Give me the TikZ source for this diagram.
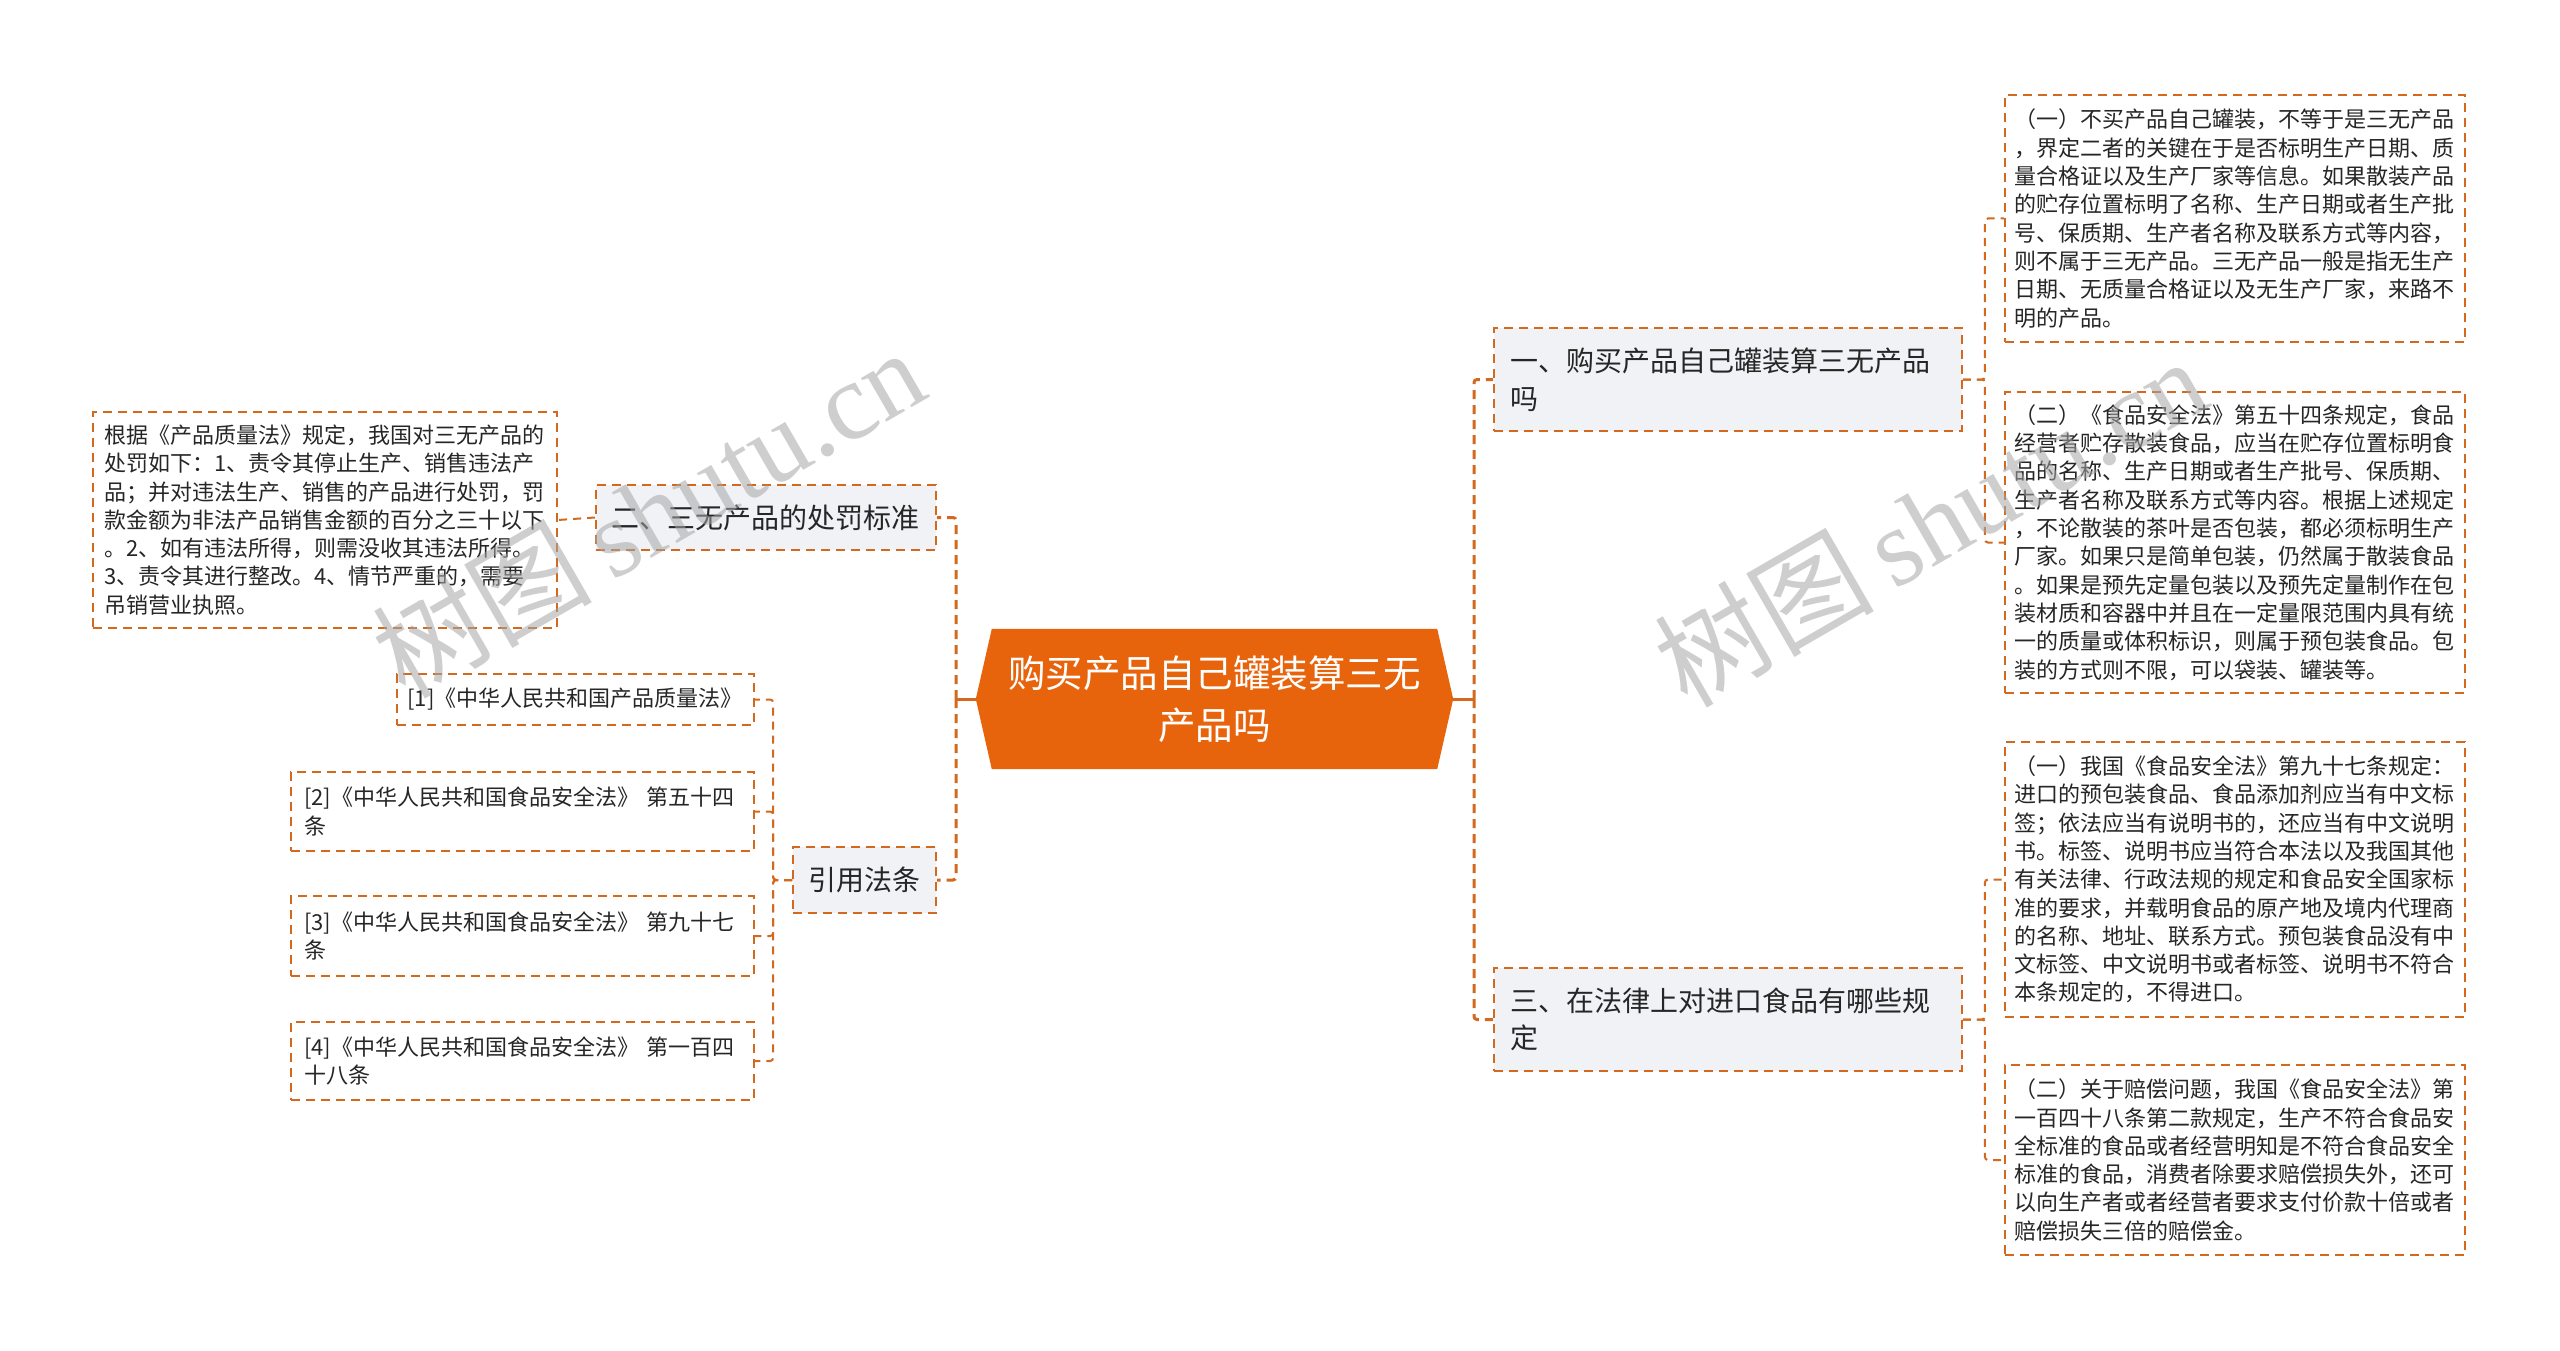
\documentclass[tikz,border=0pt]{standalone}
\usepackage{fontspec}
\setmainfont{Noto Sans CJK SC}
\newfontfamily\wmlatin{Liberation Serif}
\usetikzlibrary{backgrounds}
\definecolor{rootorange}{HTML}{E8640C}
\definecolor{linkorange}{HTML}{D2691E}
\definecolor{catfill}{HTML}{F0F2F5}
\definecolor{txt}{HTML}{262626}
\tikzset{
  boxborder/.style={draw=linkorange, line width=1.8pt, dash pattern=on 9pt off 6pt},
  leafbox/.style={boxborder, inner sep=0pt, align=left, text=txt, font=\fontsize{22}{28.3}\selectfont},
  catbox/.style={boxborder, fill=catfill, inner sep=0pt, align=left, text=txt, font=\fontsize{28}{37.5}\selectfont},
  rootbox/.style={inner sep=0pt, align=center, text=white, font=\fontsize{37.5}{52}\selectfont},
  mainlink/.style={draw=linkorange, line width=3pt, dash pattern=on 9pt off 6pt, rounded corners=3pt},
  mainstub/.style={draw=linkorange, line width=3pt},
  sublink/.style={draw=linkorange, line width=2pt, dash pattern=on 8pt off 6pt, rounded corners=3pt},
  watermark/.style={text=black!35, opacity=0.55, rotate=30, inner sep=0pt, font=\fontsize{110}{110}\selectfont},
}
\begin{document}
\begin{tikzpicture}[x=1pt, y=-1pt]
\useasboundingbox (0,0) rectangle (2560,1351);

% root
\node[rootbox, minimum width=477pt, minimum height=140pt] (root) at (1214.5,699) {购买产品自己罐装算三无\\产品吗};
\begin{scope}[on background layer]
\fill[white] (0,0) rectangle (2560,1351);
\fill[rootorange] ([xshift=16pt]root.north west) -- ([xshift=-16pt]root.north east) -- (root.east) -- ([xshift=-16pt]root.south east) -- ([xshift=16pt]root.south west) -- (root.west) -- cycle;
\end{scope}

% category nodes
\node[catbox, text width=436pt, minimum width=468pt, minimum height=103pt] (c1) at (1728,379.5) {一、购买产品自己罐装算三无产品\\吗};
\node[catbox, text width=436pt, minimum width=468pt, minimum height=103pt] (c3) at (1728,1019.5) {三、在法律上对进口食品有哪些规\\定};
\node[catbox, text width=310pt, minimum width=340pt, minimum height=65pt] (c2) at (766,517.5) {二、三无产品的处罚标准};
\node[catbox, text width=113pt, minimum width=143pt, minimum height=66pt] (c4) at (864.5,880) {引用法条};

% right leaves
\node[leafbox, text width=442pt, minimum width=460pt, minimum height=247pt] (a1) at (2235,218.5) {（一）不买产品自己罐装，不等于是三无产品\\，界定二者的关键在于是否标明生产日期、质\\量合格证以及生产厂家等信息。如果散装产品\\的贮存位置标明了名称、生产日期或者生产批\\号、保质期、生产者名称及联系方式等内容，\\则不属于三无产品。三无产品一般是指无生产\\日期、无质量合格证以及无生产厂家，来路不\\明的产品。};
\node[leafbox, text width=442pt, minimum width=460pt, minimum height=301pt] (a2) at (2235,542.5) {（二）《食品安全法》第五十四条规定，食品\\经营者贮存散装食品，应当在贮存位置标明食\\品的名称、生产日期或者生产批号、保质期、\\生产者名称及联系方式等内容。根据上述规定\\，不论散装的茶叶是否包装，都必须标明生产\\厂家。如果只是简单包装，仍然属于散装食品\\。如果是预先定量包装以及预先定量制作在包\\装材质和容器中并且在一定量限范围内具有统\\一的质量或体积标识，则属于预包装食品。包\\装的方式则不限，可以袋装、罐装等。};
\node[leafbox, text width=442pt, minimum width=460pt, minimum height=275pt] (b1) at (2235,879.5) {（一）我国《食品安全法》第九十七条规定：\\进口的预包装食品、食品添加剂应当有中文标\\签；依法应当有说明书的，还应当有中文说明\\书。标签、说明书应当符合本法以及我国其他\\有关法律、行政法规的规定和食品安全国家标\\准的要求，并载明食品的原产地及境内代理商\\的名称、地址、联系方式。预包装食品没有中\\文标签、中文说明书或者标签、说明书不符合\\本条规定的，不得进口。};
\node[leafbox, text width=442pt, minimum width=460pt, minimum height=190pt] (b2) at (2235,1160) {（二）关于赔偿问题，我国《食品安全法》第\\一百四十八条第二款规定，生产不符合食品安\\全标准的食品或者经营明知是不符合食品安全\\标准的食品，消费者除要求赔偿损失外，还可\\以向生产者或者经营者要求支付价款十倍或者\\赔偿损失三倍的赔偿金。};

% left leaves
\node[leafbox, text width=442pt, minimum width=464pt, minimum height=216pt] (l1) at (325,520) {根据《产品质量法》规定，我国对三无产品的\\处罚如下：1、责令其停止生产、销售违法产\\品；并对违法生产、销售的产品进行处罚，罚\\款金额为非法产品销售金额的百分之三十以下\\。2、如有违法所得，则需没收其违法所得。\\3、责令其进行整改。4、情节严重的，需要\\吊销营业执照。};
\node[leafbox, text width=336pt, minimum width=357pt, minimum height=51pt] (r1) at (575.5,699.5) {[1]《中华人民共和国产品质量法》};
\node[leafbox, text width=437pt, minimum width=463pt, minimum height=79pt] (r2) at (522.5,811.5) {[2]《中华人民共和国食品安全法》 第五十四\\条};
\node[leafbox, text width=437pt, minimum width=463pt, minimum height=80pt] (r3) at (522.5,936) {[3]《中华人民共和国食品安全法》 第九十七\\条};
\node[leafbox, text width=437pt, minimum width=463pt, minimum height=78pt] (r4) at (522.5,1061) {[4]《中华人民共和国食品安全法》 第一百四\\十八条};

% main connectors
\coordinate (tl) at (956,699);
\coordinate (tr) at (1474,699);
\draw[mainstub] (root.west) -- (tl);
\draw[mainstub] (root.east) -- (tr);
\draw[mainlink] (tl) |- (c2.east);
\draw[mainlink] (tl) |- (c4.east);
\draw[mainlink] (tr) |- (c1.west);
\draw[mainlink] (tr) |- (c3.west);

% sub connectors
\draw[sublink] (c1.east) -- ++(22,0) |- (a1.west);
\draw[sublink] (c1.east) -- ++(22,0) |- (a2.west);
\draw[sublink] (c3.east) -- ++(22,0) |- (b1.west);
\draw[sublink] (c3.east) -- ++(22,0) |- (b2.west);
\draw[sublink] (c2.west) -- (l1.east);
\draw[sublink] (c4.west) -- ++(-19,0) |- (r1.east);
\draw[sublink] (c4.west) -- ++(-19,0) |- (r2.east);
\draw[sublink] (c4.west) -- ++(-19,0) |- (r3.east);
\draw[sublink] (c4.west) -- ++(-19,0) |- (r4.east);

% watermarks
\node[watermark] (wm1) at (648,512) {树图\,{\wmlatin shutu.cn}};
\node[watermark] (wm2) at (1930,521) {树图\,{\wmlatin shutu.cn}};
\end{tikzpicture}
\end{document}
